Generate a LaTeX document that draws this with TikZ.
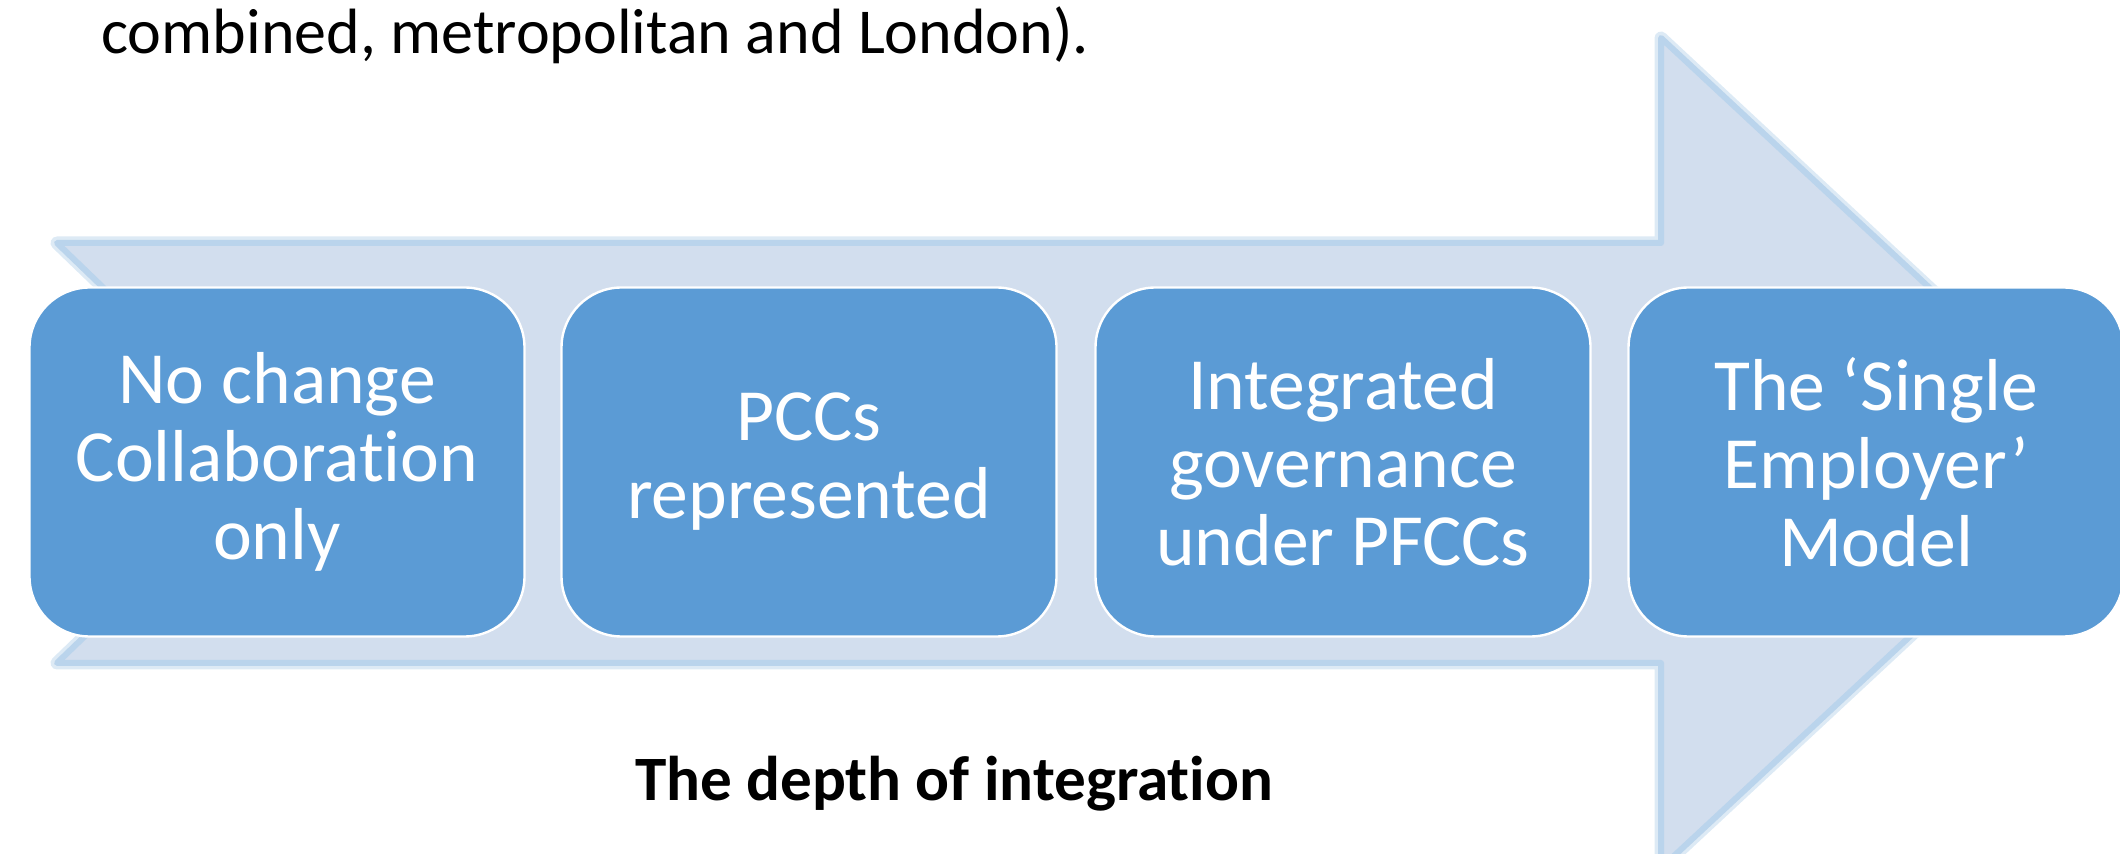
\documentclass[tikz,border=0pt]{standalone}
\usepackage{fontspec}
\setmainfont{Carlito}[Ligatures=NoCommon]
\definecolor{arrowfill}{RGB}{210,222,238}
\definecolor{arrowedge}{RGB}{186,212,236}
\definecolor{boxfill}{RGB}{91,155,213}
\begin{document}
\begin{tikzpicture}[x=0.5pt,y=-0.5pt,
  stage/.style={draw=white, line width=1.2pt, fill=boxfill, rounded corners=30pt,
    minimum width=247.5pt, minimum height=174.5pt, inner sep=0pt, text=white,
    align=center, font=\fontsize{36.8}{39}\selectfont},
  bigarrow/.style={fill=arrowfill, draw=arrowedge, line width=3pt, line join=round},
  glow/.style={draw=arrowedge!50, line width=6.5pt, line join=round},
  caption/.style={inner sep=0pt, font=\fontsize{32}{38}\selectfont},
]
\useasboundingbox (0,0) rectangle (2120,854);
\clip (0,0) rectangle (2120,854);
% big background arrow
\draw[glow] (57,243) -- (1661,243) -- (1661,38) -- (2107,453) -- (1661,868) -- (1661,663) -- (57,663) -- (275,453) -- cycle;
\draw[bigarrow] (57,243) -- (1661,243) -- (1661,38) -- (2107,453) -- (1661,868) -- (1661,663) -- (57,663) -- (275,453) -- cycle;
% stages
\node[stage] (s1) at (277,462) {No change\\Collaboration\\only};
\node[stage] (s2) at (809,462) {PCCs\\represented};
\node[stage] (s3) at (1343,462) {Integrated\\governance\\under PFCCs};
\node[stage] (s4) at (1876,462) {The ‘Single\\Employer’\\Model};
% texts
\node[caption, anchor=base west] (top) at (101,54) {combined, metropolitan and London).};
\node[caption, anchor=base, font=\fontsize{31.6}{38}\selectfont\bfseries] (cap) at (954,800) {The depth of integration};
\end{tikzpicture}
\end{document}
